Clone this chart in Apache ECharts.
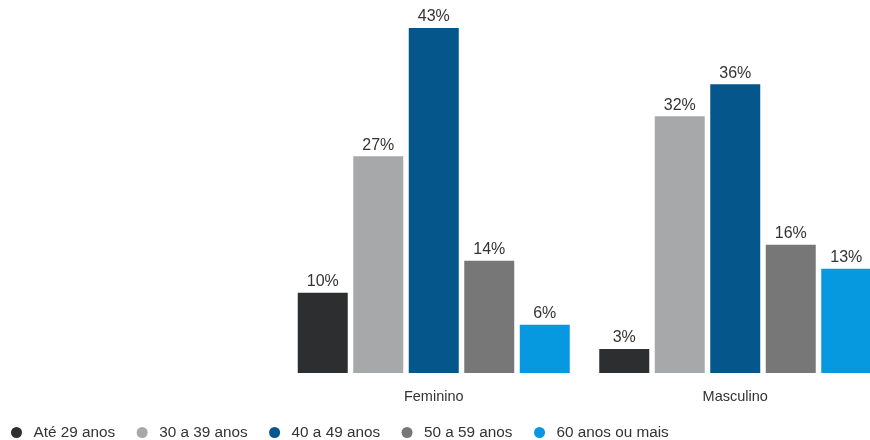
<!DOCTYPE html>
<html><head><meta charset="utf-8">
<script src="https://cdn.jsdelivr.net/npm/echarts@6/dist/echarts.min.js"></script>
<style>html,body{margin:0;padding:0;background:#fff;overflow:hidden;width:870px;height:440px}#c{width:890px;height:440px}</style>
</head><body><div id="c"></div>
<script>
const categories = ['Feminino', 'Masculino'];
const seriesNames = ['Até 29 anos', '30 a 39 anos', '40 a 49 anos', '50 a 59 anos', '60 anos ou mais'];
const ate29 = [10, 3];
const de30a39 = [27, 32];
const de40a49 = [43, 36];
const de50a59 = [14, 16];
const mais60 = [6, 13];
const colors = ['#2d2e30', '#a7a8aa', '#04568b', '#777777', '#0799e0'];
const values = [ate29, de30a39, de40a49, de50a59, mais60];

const chart = echarts.init(document.getElementById('c'));
chart.setOption({
  animation: false,
  textStyle: { fontFamily: 'Liberation Sans, Arial, sans-serif' },
  legend: {
    left: 6, bottom: -5, itemWidth: 24, itemHeight: 11, itemGap: 21.5, icon: 'circle',
    textStyle: { fontSize: 15.3, color: '#333' },
    data: seriesNames
  },
  grid: { left: 283, width: 603, top: 28, bottom: 67, containLabel: false },
  xAxis: {
    type: 'category', data: categories,
    axisLine: { show: false }, axisTick: { show: false },
    axisLabel: { fontSize: 14.5, color: '#333', margin: 16 }
  },
  yAxis: { type: 'value', min: 0, max: 43, show: false, splitLine: { show: false } },
  series: values.map((v, i) => ({
    name: seriesNames[i], type: 'bar', data: v, barWidth: 50, barGap: '11%',
    itemStyle: { color: colors[i] },
    label: { show: true, position: 'top', distance: 3, formatter: '{c}%', fontSize: 16, color: '#333' }
  }))
});
</script></body></html>
